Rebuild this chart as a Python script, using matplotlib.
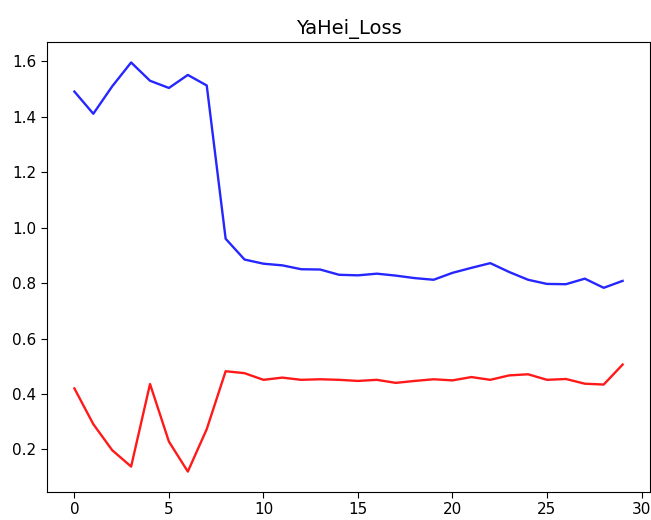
import matplotlib
matplotlib.use('Agg')
import matplotlib.pyplot as plt

epochs = list(range(30))

# blue curve
loss_a = [1.491, 1.411, 1.510, 1.596, 1.530, 1.504, 1.551, 1.513, 0.960, 0.885,
          0.870, 0.864, 0.850, 0.849, 0.830, 0.828, 0.834, 0.827, 0.818, 0.812,
          0.837, 0.855, 0.872, 0.840, 0.812, 0.797, 0.796, 0.816, 0.783, 0.808]

# red curve
loss_b = [0.420, 0.291, 0.197, 0.138, 0.436, 0.228, 0.120, 0.273, 0.482, 0.475,
          0.451, 0.459, 0.451, 0.453, 0.451, 0.447, 0.451, 0.440, 0.447, 0.453,
          0.449, 0.461, 0.451, 0.467, 0.471, 0.451, 0.454, 0.437, 0.434, 0.506]

plt.rcParams['xtick.labelsize'] = 11
plt.rcParams['ytick.labelsize'] = 11
plt.rcParams['xtick.major.size'] = 4
plt.rcParams['ytick.major.size'] = 4

fig = plt.figure(figsize=(6.51, 5.2), dpi=100)
ax = fig.add_axes([0.0722, 0.0538, 0.9263, 0.8654])

ax.plot(epochs, loss_a, color='b', alpha=0.85, linewidth=1.7)
ax.plot(epochs, loss_b, color='r', alpha=0.9, linewidth=1.7)
ax.set_title('YaHei_Loss', fontsize=14)

fig.savefig('out.png', dpi=100)
